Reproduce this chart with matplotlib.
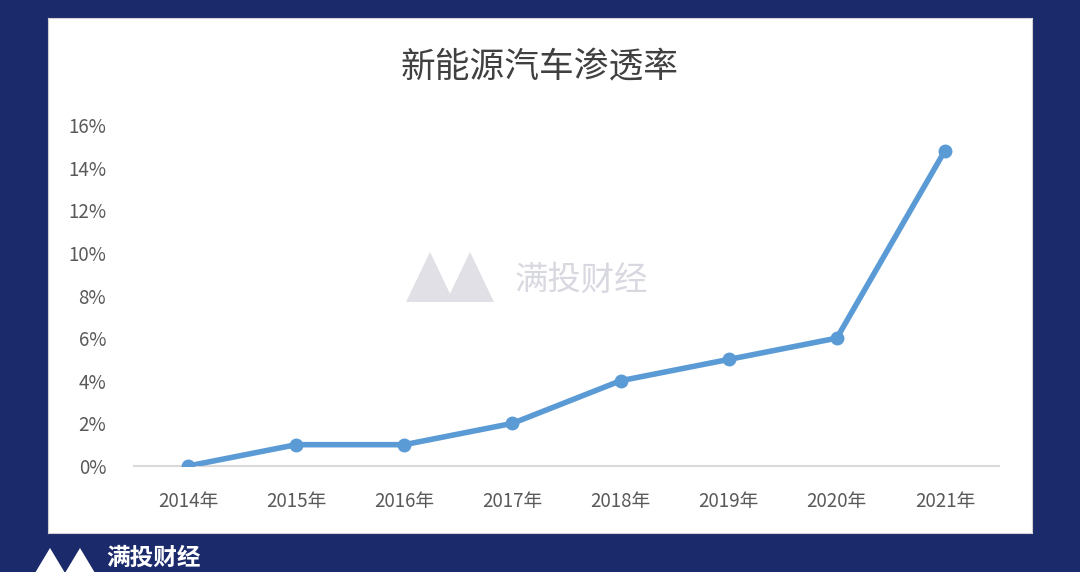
import matplotlib.pyplot as plt
import matplotlib.patches as patches

plt.rcParams['font.family'] = ['Noto Sans CJK SC', 'DejaVu Sans']

years = ['2014年', '2015年', '2016年', '2017年', '2018年', '2019年', '2020年', '2021年']
rate = [0.0, 1.0, 1.0, 2.0, 4.0, 5.0, 6.0, 14.8]
yticks = [0, 2, 4, 6, 8, 10, 12, 14, 16]

W, H = 1080, 572
fig = plt.figure(figsize=(10.8, 5.72), dpi=100)
fig.patch.set_facecolor('#1b2a6b')

# white panel
bg = fig.add_axes([48/W, 1-533/H, 984/W, 515/H], zorder=0)
bg.set_facecolor('white')
bg.set_xticks([]); bg.set_yticks([])
for s in bg.spines.values():
    s.set_color('#d0d0d0')


def logo(x0, y0, w, h, color):
    # two overlapping peaks, in pixel coordinates (top-left origin)
    for dx in (0, w * 0.5):
        pts = [((x0 + dx) / W, 1 - (y0 + h) / H),
               ((x0 + dx + w * 0.3) / W, 1 - y0 / H),
               ((x0 + dx + w * 0.6) / W, 1 - (y0 + h) / H)]
        fig.patches.append(patches.Polygon(pts, closed=True, transform=fig.transFigure,
                                           facecolor=color, edgecolor='none', zorder=5))


ax = fig.add_axes([134/W, 1-466/H, 865/W, 341/H], zorder=2)
ax.set_facecolor('none')
x = list(range(len(years)))
ax.plot(x, rate, color='#5b9bd5', lw=4, marker='o', ms=9, solid_capstyle='round', zorder=3)
ax.set_xlim(-0.5, 7.5)
ax.set_ylim(0, 16)
ax.set_yticks(yticks)
ax.set_yticklabels([f'{v}%' for v in yticks])
ax.set_xticks(x)
ax.set_xticklabels(years)
for s in ['top', 'right', 'left']:
    ax.spines[s].set_visible(False)
ax.spines['bottom'].set_color('#d9d9d9')
ax.spines['bottom'].set_linewidth(1.5)
ax.tick_params(length=0, colors='#595959', labelsize=13.5, pad=18)
ax.tick_params(axis='y', pad=20)

fig.text(540/W, 1-68/H, '新能源汽车渗透率', ha='center', va='center',
         fontsize=25, color='#404040', zorder=6)
# watermark
logo(406, 252, 80, 50, '#e0e0e6')
fig.text(515/W, 1-280/H, '满投财经', ha='left', va='center',
         fontsize=24, color='#d8d8e0', zorder=6)
# bottom-left logo
logo(32, 548, 60, 30, 'white')
fig.text(106/W, 1-558/H, '满投财经', ha='left', va='center',
         fontsize=17, color='white', fontweight='bold', zorder=6)

fig.savefig('out.png', dpi=100, facecolor=fig.get_facecolor())
